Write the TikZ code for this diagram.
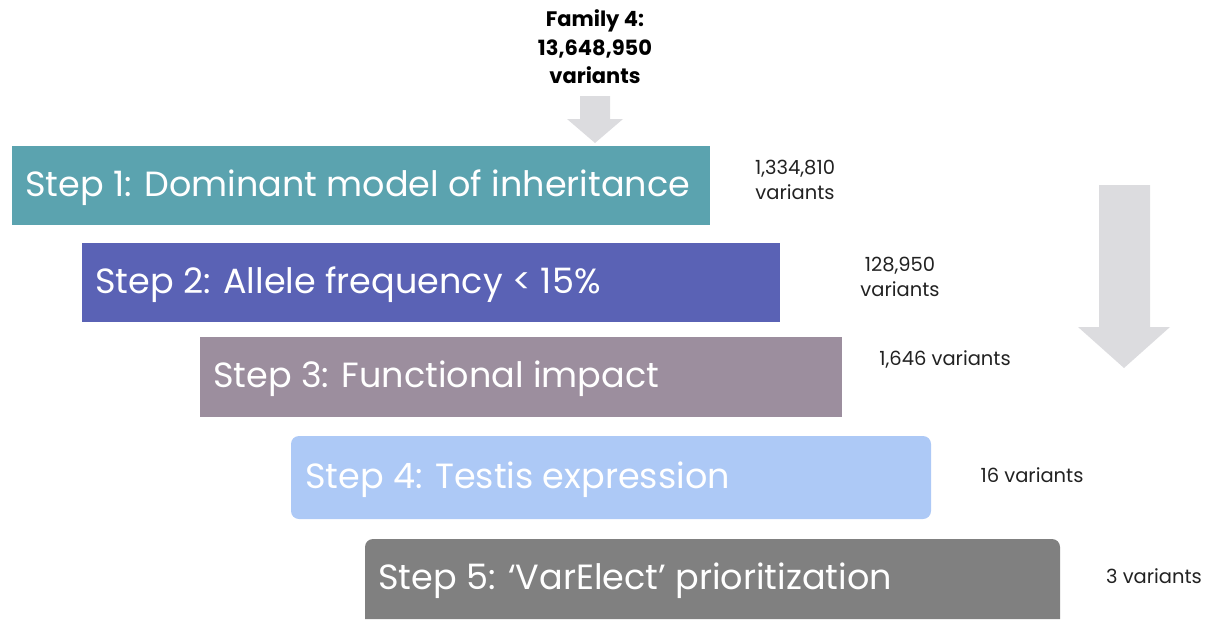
\documentclass[tikz,border=0pt]{standalone}
\usepackage{fontspec}
\setmainfont{Poppins}
\definecolor{c1}{HTML}{5BA3AF}
\definecolor{c2}{HTML}{5A62B5}
\definecolor{c3}{HTML}{9C8E9E}
\definecolor{c4}{HTML}{ADC9F6}
\definecolor{c5}{HTML}{808080}
\definecolor{arr}{HTML}{DCDCDF}
\definecolor{txt}{HTML}{222222}
\tikzset{
  stepbox/.style={anchor=north west,inner sep=0pt,outer sep=0pt},
  steptext/.style={anchor=west,text=white,font=\fontsize{35}{40}\selectfont,inner sep=0pt},
  countlabel/.style={text=txt,font=\fontsize{19.5}{25}\selectfont,align=center,inner sep=0pt},
}
\begin{document}
\begin{tikzpicture}[x=1pt,y=-1pt]
\useasboundingbox (0,0) rectangle (1207,619);
% title
\node[font=\bfseries\fontsize{21}{28.5}\selectfont,align=center,inner sep=0pt,text=black] (fam) at (595,47) {Family 4:\\13,648,950\\variants};
% small arrow
\fill[arr] (580,96) -- (610,96) -- (610,119) -- (623,119) -- (595,143) -- (567,119) -- (580,119) -- cycle;
% big arrow
\fill[arr] (1099,185) -- (1150,185) -- (1150,327) -- (1170,327) -- (1124,368) -- (1078,327) -- (1099,327) -- cycle;
% boxes
\node[stepbox,fill=c1,minimum width=698pt,minimum height=79pt] (b1) at (12,146) {};
\node[stepbox,fill=c2,minimum width=698pt,minimum height=79pt] (b2) at (82,243) {};
\node[stepbox,fill=c3,minimum width=642pt,minimum height=80pt] (b3) at (200,337) {};
\node[stepbox,fill=c4,minimum width=640pt,minimum height=83pt,rounded corners=8pt] (b4) at (291,436) {};
\fill[c5] (365,619) [rounded corners=8pt] -- (365,539) -- (1060,539) [sharp corners] -- (1060,619) -- cycle;
\coordinate (b5w) at (365,581);
% step texts
\node[steptext] (t1) at ([xshift=13pt,yshift=-2pt]b1.west) {Step 1: Dominant model of inheritance};
\node[steptext] (t2) at ([xshift=13pt,yshift=-2pt]b2.west) {Step 2: Allele frequency < 15\%};
\node[steptext] (t3) at ([xshift=13pt,yshift=-2pt]b3.west) {Step 3: Functional impact};
\node[steptext] (t4) at ([xshift=14pt,yshift=-2pt]b4.west) {Step 4: Testis expression};
\node[steptext] (t5) at ([xshift=13pt]b5w) {Step 5: ‘VarElect’ prioritization};
% counts
\node[countlabel] (n1) at (795,180) {1,334,810\\variants};
\node[countlabel] (n2) at (900,277) {128,950\\variants};
\node[countlabel] (n3) at (945,359) {1,646 variants};
\node[countlabel] (n4) at (1032,475) {16 variants};
\node[countlabel] (n5) at (1154,576) {3 variants};
\end{tikzpicture}
\end{document}
